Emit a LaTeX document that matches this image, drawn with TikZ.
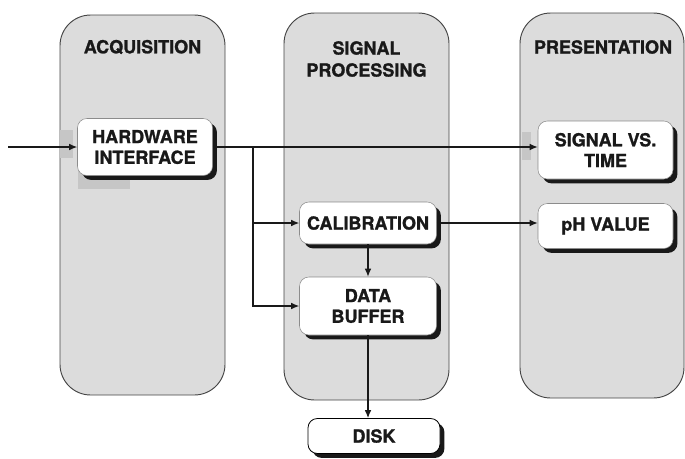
\documentclass[tikz,border=0pt]{standalone}
\usepackage{fontspec}
\setmainfont{TeX Gyre Heros}[BoldFeatures={FakeBold=1.2}]
\usetikzlibrary{arrows.meta,shadows}
\definecolor{panelgray}{HTML}{DCDCDC}
\definecolor{patchgray}{HTML}{C6C6C6}
\definecolor{edgegray}{HTML}{454545}
\tikzset{
  panel/.style={draw=edgegray, line width=0.7pt, fill=panelgray, rounded corners=23pt},
  patch/.style={fill=patchgray, draw=none},
  title/.style={font=\fontsize{13.5}{16.5}\selectfont\bfseries, align=center, text=black!90},
  box/.style={draw=black!45, line width=0.4pt, fill=white, rounded corners=7pt, inner sep=0pt,
    font=\fontsize{13.5}{15.5}\selectfont\bfseries, align=center, text=black!90,
    drop shadow={shadow xshift=3.3pt, shadow yshift=-3.3pt, fill=black!90, opacity=1}},
  diskbox/.style={box, draw=black, line width=0.6pt},
  arr/.style={line width=0.9pt, draw=black!90, -{Latex[length=6pt,width=5pt]}}
}
\begin{document}
\begin{tikzpicture}[x=0.75pt,y=-0.75pt]
\useasboundingbox (0,0) rectangle (685,458);
% panels
\draw[panel] (60,15) rectangle (225,395);
\draw[panel] (284,13) rectangle (449,400);
\draw[panel] (520,13) rectangle (684,398);
% gray patches
\fill[patch] (60,130) rectangle (73,158);
\fill[patch] (78,160) rectangle (130,189);
\fill[patch] (522,132) rectangle (531,160);
% titles
\node[title] (tacq) at (142.5,47) {ACQUISITION};
\node[title] (tsp) at (366.5,59) {SIGNAL\\PROCESSING};
\node[title] (tpres) at (603,47) {PRESENTATION};
% boxes
\node[box, minimum width=101.25pt, minimum height=42.75pt] (hw) at (145,147) {HARDWARE\\INTERFACE};
\node[box, minimum width=102.75pt, minimum height=31.5pt] (cal) at (368,223) {CALIBRATION};
\node[box, minimum width=102.75pt, minimum height=43.5pt] (buf) at (368,306) {DATA\\BUFFER};
\node[diskbox, minimum width=99pt, minimum height=26.25pt] (disk) at (374,436) {DISK};
\node[box, minimum width=101.25pt, minimum height=43.5pt] (svt) at (605.5,150) {SIGNAL VS.\\TIME};
\node[box, minimum width=101.25pt, minimum height=33.75pt] (ph) at (605.5,226) {pH VALUE};
% connectors
\coordinate (in) at (8,147);
\coordinate (br) at (253,147);
\draw[arr] (in) -- (hw.west |- in);
\draw[arr] (hw.east |- in) -- (svt.west |- in);
\draw[arr] (br) |- (cal.west);
\draw[arr] (br) |- (buf.west);
\draw[arr] (cal.south) -- (buf.north);
\draw[arr] (cal.east) -- (cal.east -| ph.west);
\draw[arr] (buf.south) -- (buf.south |- disk.north);
\end{tikzpicture}
\end{document}
